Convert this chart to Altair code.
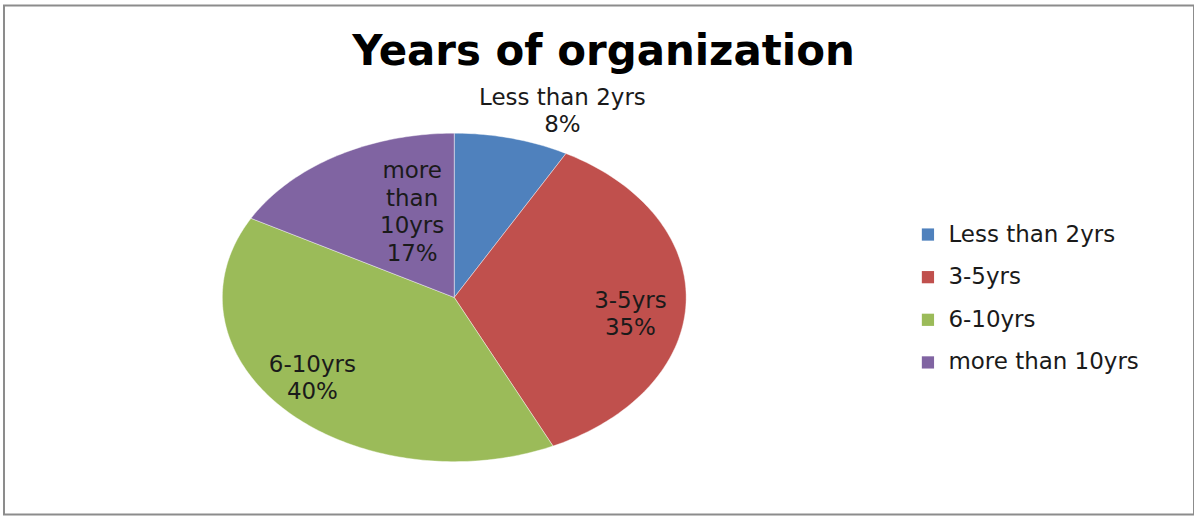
import altair as alt
import pandas as pd
import numpy as np

# ---- data ----
categories = ["Less than 2yrs", "3-5yrs", "6-10yrs", "more than 10yrs"]
percents = [8, 35, 40, 17]
slice_labels = ["Less than 2yrs\n8%", "3-5yrs\n35%", "6-10yrs\n40%", "more\nthan\n10yrs\n17%"]
chart_title = "Years of organization"

# ---- styles ----
colors = ["#4F81BD", "#C0504D", "#9BBB59", "#8064A2"]
label_radius = [1.2, 0.76, 0.78, 0.5]
label_nudge_x = [0.168, 0.0, -0.043, 0.073]
label_nudge_y = [0.052, 0.003, 0.125, 0.337]
FONT = "DejaVu Sans"

# ---- build slice outlines (angle from top, clockwise) ----
total = float(sum(percents))
bounds = np.concatenate([[0.0], np.cumsum(percents)]) / total * 2 * np.pi
rows = []
for i, cat in enumerate(categories):
    a0, a1 = bounds[i], bounds[i + 1]
    n = max(4, int(np.degrees(a1 - a0)))
    rows.append(dict(category=cat, k=0, r=0.0, a=a0))
    for j in range(n + 1):
        rows.append(dict(category=cat, k=j + 1, r=1.0, a=a0 + (a1 - a0) * j / n))
    rows.append(dict(category=cat, k=n + 2, r=0.0, a=a1))
pie_df = pd.DataFrame(rows)

lab_df = pd.DataFrame({
    "category": categories,
    "text": slice_labels,
    "mid": [(bounds[i] + bounds[i + 1]) / 2 for i in range(len(categories))],
    "rf": label_radius,
    "nx": label_nudge_x,
    "ny": label_nudge_y,
})

xs = alt.Scale(domain=[-1, 1], range=[218.7, 683.3], nice=False, zero=False)
ys = alt.Scale(domain=[-1, 1], range=[457, 128], nice=False, zero=False)

pie = alt.Chart(pie_df).transform_calculate(
    px="datum.r * sin(datum.a)",
    py="datum.r * cos(datum.a)",
).mark_line(filled=True, stroke="white", strokeWidth=0.6, strokeOpacity=0.7).encode(
    x=alt.X("px:Q", scale=xs, axis=None),
    y=alt.Y("py:Q", scale=ys, axis=None),
    order=alt.Order("k:Q"),
    color=alt.Color(
        "category:N",
        scale=alt.Scale(domain=categories, range=colors),
        legend=alt.Legend(
            title=None, orient="none", legendX=914, legendY=218,
            symbolType="square", symbolSize=150, symbolStrokeWidth=0,
            labelFont=FONT, labelFontSize=23, labelColor="#1a1a1a", labelLimit=0,
            rowPadding=18.7, labelOffset=9, padding=0,
        ),
    ),
)

labels = alt.Chart(lab_df).transform_calculate(
    lx="datum.rf * sin(datum.mid) + datum.nx",
    ly="datum.rf * cos(datum.mid) + datum.ny",
).mark_text(
    font=FONT, fontSize=23, lineHeight=27.5, lineBreak="\n",
    align="center", baseline="middle", color="#1a1a1a",
).encode(
    x=alt.X("lx:Q", scale=xs, axis=None),
    y=alt.Y("ly:Q", scale=ys, axis=None),
    text="text:N",
)

title = alt.Chart(pd.DataFrame({"t": [chart_title]})).mark_text(
    font=FONT, fontSize=42, fontWeight="bold", color="black",
    align="center", baseline="alphabetic",
).encode(
    x=alt.value(600.5), y=alt.value(60), text="t:N",
)

chart = alt.layer(pie, labels, title).properties(
    width=1192, height=510,
    autosize="none",
    padding={"left": 4, "top": 5, "right": 0, "bottom": 1},
    background="white",
).configure_view(stroke="#8c8c8c", strokeWidth=2)

chart.save("out.html", embed_options={"renderer": "svg", "actions": False})
